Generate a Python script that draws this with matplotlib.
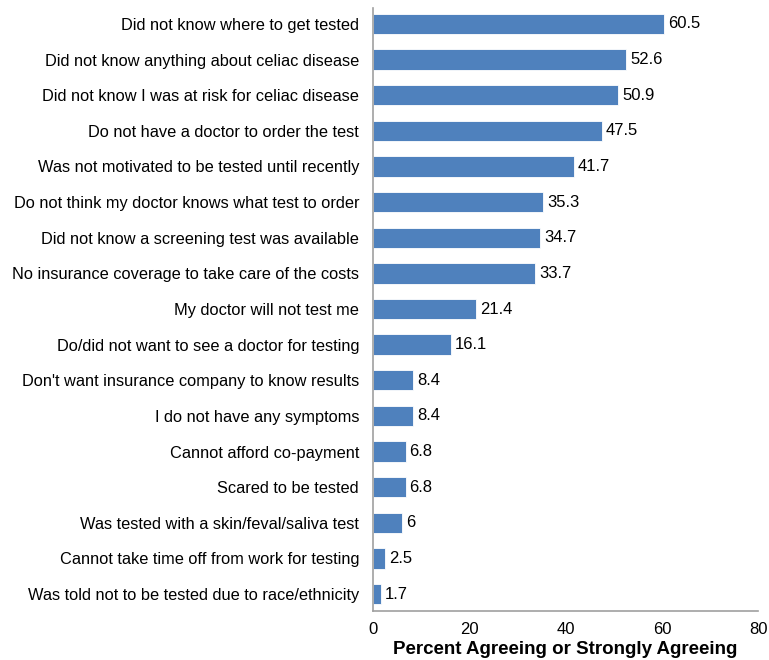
import matplotlib; matplotlib.use("Agg")
import matplotlib.pyplot as plt

reasons = [
    "Did not know where to get tested",
    "Did not know anything about celiac disease",
    "Did not know I was at risk for celiac disease",
    "Do not have a doctor to order the test",
    "Was not motivated to be tested until recently",
    "Do not think my doctor knows what test to order",
    "Did not know a screening test was available",
    "No insurance coverage to take care of the costs",
    "My doctor will not test me",
    "Do/did not want to see a doctor for testing",
    "Don't want insurance company to know results",
    "I do not have any symptoms",
    "Cannot afford co-payment",
    "Scared to be tested",
    "Was tested with a skin/feval/saliva test",
    "Cannot take time off from work for testing",
    "Was told not to be tested due to race/ethnicity",
]
percent = [60.5, 52.6, 50.9, 47.5, 41.7, 35.3, 34.7, 33.7, 21.4, 16.1, 8.4, 8.4, 6.8, 6.8, 6, 2.5, 1.7]
value_labels = ["60.5", "52.6", "50.9", "47.5", "41.7", "35.3", "34.7", "33.7", "21.4", "16.1",
                "8.4", "8.4", "6.8", "6.8", "6", "2.5", "1.7"]

plt.rcParams["font.family"] = ["Liberation Sans", "DejaVu Sans"]
fig = plt.figure(figsize=(7.69, 6.6), dpi=100)
ax = fig.add_axes([0.485, 0.074, 0.501, 0.914])

n = len(reasons)
ypos = [n - 1 - i for i in range(n)]
ax.barh(ypos, percent, height=0.57, color="#4F81BD", edgecolor="white", linewidth=0.6)
for y, v, lab in zip(ypos, percent, value_labels):
    ax.text(v + 0.8, y, lab, va="center", ha="left", fontsize=12)

ax.set_yticks(ypos)
ax.set_yticklabels(reasons, fontsize=11.8)
ax.set_xlim(0, 80)
ax.set_ylim(-0.48, n - 0.55)
ax.set_xticks([0, 20, 40, 60, 80])
ax.tick_params(axis="x", labelsize=12, length=0, pad=8)
ax.tick_params(axis="y", length=0, pad=10)
ax.set_xlabel("Percent Agreeing or Strongly Agreeing", fontsize=13.5, fontweight="bold", labelpad=3)
for s in ["top", "right"]:
    ax.spines[s].set_visible(False)
for s in ["left", "bottom"]:
    ax.spines[s].set_color("#A0A0A0")
    ax.spines[s].set_linewidth(1.2)

fig.savefig("out.png", dpi=100)
